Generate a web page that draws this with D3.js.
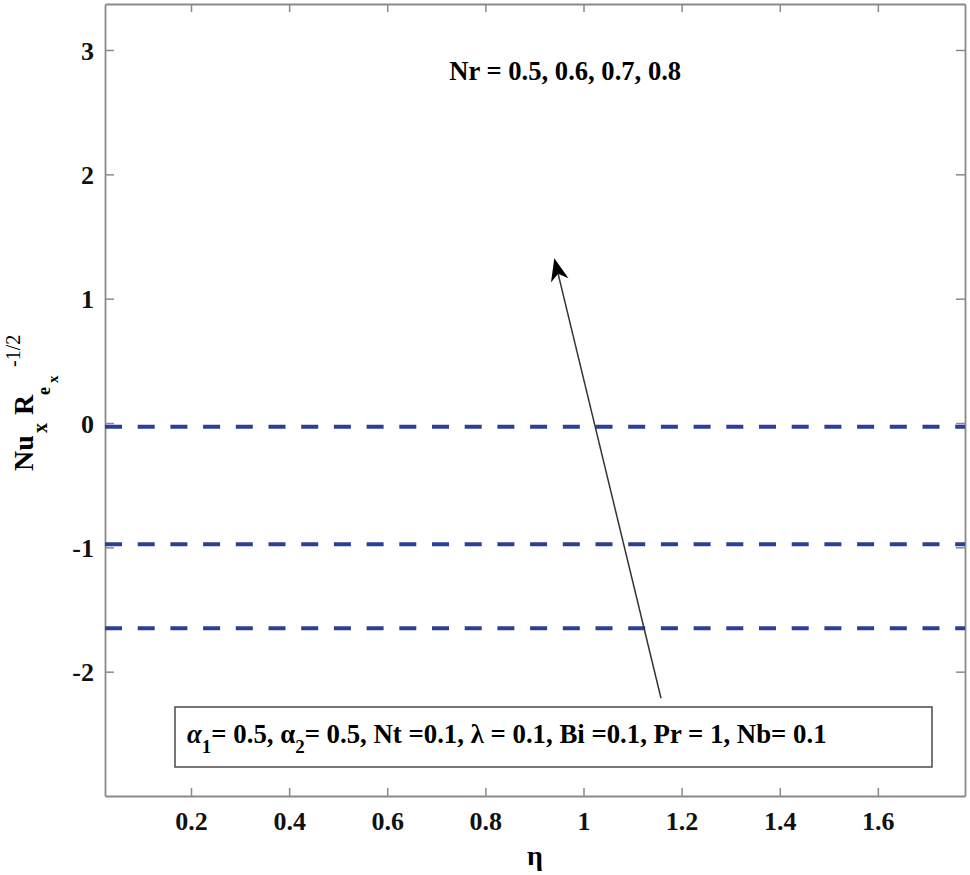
<!DOCTYPE html>
<html>
<head>
<meta charset="utf-8">
<script src="https://cdn.jsdelivr.net/npm/d3@7"></script>
<style>
  body { margin: 0; background: #fff; }
  text { font-family: "Liberation Serif", "Times New Roman", serif; }
</style>
</head>
<body>
<div id="chart"></div>
<script>
// data
const etaDomain = [0.0247, 1.7776];
const nuDomain = [-3, 3.37];
const xTicks = [0.2, 0.4, 0.6, 0.8, 1, 1.2, 1.4, 1.6];
const yTicks = [-2, -1, 0, 1, 2, 3];
const nrValues = [0.5, 0.6, 0.7, 0.8];
// three distinct dashed lines are visible (constant in eta)
const seriesNu = [-0.03, -0.975, -1.65];
const seriesEta = [0.0247, 1.7776];
// arrow annotation, in data units
const arrowFrom = [1.158, -2.214];
const arrowTo = [0.9405, 1.326];

const config = { width: 970, height: 875, left: 105, top: 4, right: 965, bottom: 796 };

const svg = d3.select("#chart").append("svg")
    .attr("width", config.width)
    .attr("height", config.height);

const x = d3.scaleLinear().domain(etaDomain).range([config.left, config.right]);
const y = d3.scaleLinear().domain(nuDomain).range([config.bottom, config.top]);

const axisColor = "#8a8a8a";
const fmt = d => String(d);  // plain hyphen for negatives, like the original

// axes: bottom, left, plus mirrored ticks on top/right (box on)
const xAxisB = d3.axisBottom(x).tickValues(xTicks).tickSizeInner(-8).tickSizeOuter(0).tickFormat(fmt);
const xAxisT = d3.axisTop(x).tickValues(xTicks).tickSizeInner(-8).tickSizeOuter(0).tickFormat("");
const yAxisL = d3.axisLeft(y).tickValues(yTicks).tickSizeInner(-9).tickSizeOuter(0).tickFormat(fmt);
const yAxisR = d3.axisRight(y).tickValues(yTicks).tickSizeInner(-9).tickSizeOuter(0).tickFormat("");

const gxb = svg.append("g").attr("transform", `translate(0,${config.bottom})`).call(xAxisB);
const gxt = svg.append("g").attr("transform", `translate(0,${config.top})`).call(xAxisT);
const gyl = svg.append("g").attr("transform", `translate(${config.left},0)`).call(yAxisL);
const gyr = svg.append("g").attr("transform", `translate(${config.right},0)`).call(yAxisR);

[gxb, gxt, gyl, gyr].forEach(g => {
    g.select(".domain").attr("stroke", axisColor).attr("stroke-width", 1.8);
    g.selectAll(".tick line").attr("stroke", axisColor).attr("stroke-width", 1.5);
    g.selectAll("text")
        .attr("fill", "#111")
        .style("font-family", '"Liberation Serif", "Times New Roman", serif')
        .style("font-size", "26px")
        .style("font-weight", "bold");
});
gxb.selectAll(".tick text").attr("y", 34).attr("dy", 0);
gyl.selectAll(".tick text").attr("x", -11).attr("dy", 9);

// dashed lines
const line = d3.line().x(d => x(d[0])).y(d => y(d[1]));
svg.append("g").selectAll("path")
    .data(seriesNu)
    .enter().append("path")
    .attr("d", v => line(seriesEta.map(e => [e, v])))
    .attr("fill", "none")
    .attr("stroke", "#2b3f98")
    .attr("stroke-width", 4)
    .attr("stroke-dasharray", "17,15.7");

// arrow
const x1 = x(arrowFrom[0]), y1 = y(arrowFrom[1]);
const x2 = x(arrowTo[0]), y2 = y(arrowTo[1]);
const ang = Math.atan2(y2 - y1, x2 - x1);
const hl = 23, hw = 9, notch = 16;
svg.append("line")
    .attr("x1", x1).attr("y1", y1)
    .attr("x2", x2 - notch * Math.cos(ang)).attr("y2", y2 - notch * Math.sin(ang))
    .attr("stroke", "#333").attr("stroke-width", 1.5);
const ux = Math.cos(ang), uy = Math.sin(ang), px = -uy, py = ux;
svg.append("path")
    .attr("d", `M${x2},${y2}` +
        `L${x2 - hl * ux + hw * px},${y2 - hl * uy + hw * py}` +
        `L${x2 - notch * ux},${y2 - notch * uy}` +
        `L${x2 - hl * ux - hw * px},${y2 - hl * uy - hw * py}Z`)
    .attr("fill", "#000");

// Nr label
svg.append("text")
    .attr("x", x(0.7265)).attr("y", y(2.76))
    .style("font-size", "26.6px").style("font-weight", "bold")
    .text("Nr = " + nrValues.join(", "));

// parameter box
svg.append("rect")
    .attr("x", 175).attr("y", 707).attr("width", 757).attr("height", 60)
    .attr("fill", "#fff").attr("stroke", "#555").attr("stroke-width", 1.6);
const box = svg.append("text")
    .attr("x", 187).attr("y", 743)
    .style("font-size", "26.8px").style("font-weight", "bold");
box.append("tspan").style("font-style", "italic").text("α");
box.append("tspan").attr("dy", 10).style("font-size", "19px").text("1");
box.append("tspan").attr("dy", -10).text("= 0.5, α");
box.append("tspan").attr("dy", 10).style("font-size", "19px").text("2");
box.append("tspan").attr("dy", -10).text("= 0.5, Nt =0.1, λ = 0.1, Bi =0.1, Pr = 1, Nb= 0.1");

// axis labels
svg.append("text")
    .attr("x", 535).attr("y", 865)
    .attr("text-anchor", "middle")
    .style("font-size", "28px").style("font-weight", "bold")
    .text("η");

// rotated y label, tspans placed in rotated frame: (x, y) -> screen (y, -x)
const yl = svg.append("text").attr("transform", "rotate(-90)").style("font-weight", "bold");
yl.append("tspan").attr("x", -471).attr("y", 33).style("font-size", "28px").text("Nu");
yl.append("tspan").attr("x", -433).attr("y", 47).style("font-size", "20px").text("x");
yl.append("tspan").attr("x", -415).attr("y", 33).style("font-size", "28px").text("R");
yl.append("tspan").attr("x", -395).attr("y", 50).style("font-size", "18px").text("e");
yl.append("tspan").attr("x", -383).attr("y", 58).style("font-size", "15px").text("x");
yl.append("tspan").attr("x", -367).attr("y", 20).style("font-size", "20px").style("font-weight", "normal").text("-1/2");
</script>
</body>
</html>
